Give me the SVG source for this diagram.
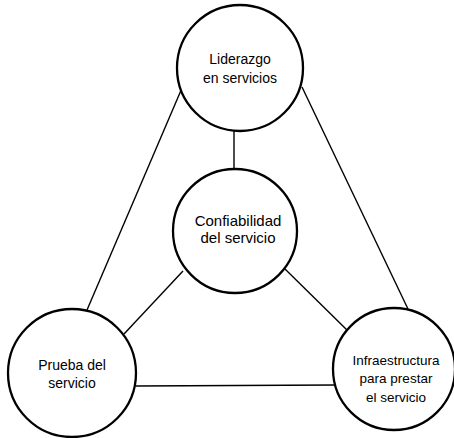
<svg xmlns="http://www.w3.org/2000/svg" width="454" height="438" viewBox="0 0 454 438">
<style>
.node circle{fill:#fff;stroke:#000;stroke-width:2.3}
.node text{font-family:"Liberation Sans",Arial,sans-serif;font-size:14px;fill:#000;text-anchor:middle}
#connectors line{stroke:#000;stroke-width:1.4;fill:none}
</style>
<rect width="454" height="438" fill="#fff"/>
<g id="connectors">
<line x1="234" y1="131" x2="234" y2="170"/>
<line x1="182" y1="88" x2="87" y2="310"/>
<line x1="302" y1="87" x2="408" y2="309"/>
<line x1="183" y1="271" x2="124" y2="334"/>
<line x1="285" y1="269" x2="349" y2="332"/>
<line x1="136" y1="386" x2="336" y2="385"/>
</g>
<g id="liderazgo" class="node">
<circle cx="240" cy="68" r="63"/>
<text x="240" y="64">Liderazgo</text>
<text x="240" y="83">en servicios</text>
</g>
<g id="confiabilidad" class="node">
<circle cx="235" cy="231" r="62"/>
<text x="238" y="226" style="font-size:15px">Confiabilidad</text>
<text x="238" y="243" style="font-size:15px">del servicio</text>
</g>
<g id="prueba" class="node">
<circle cx="72" cy="373" r="64"/>
<text x="72" y="370">Prueba del</text>
<text x="72" y="388">servicio</text>
</g>
<g id="infraestructura" class="node">
<circle cx="394" cy="369" r="61"/>
<text x="396" y="365" style="font-size:13.5px">Infraestructura</text>
<text x="396" y="383" style="font-size:13.5px">para prestar</text>
<text x="396" y="402" style="font-size:13.5px">el servicio</text>
</g>
</svg>
